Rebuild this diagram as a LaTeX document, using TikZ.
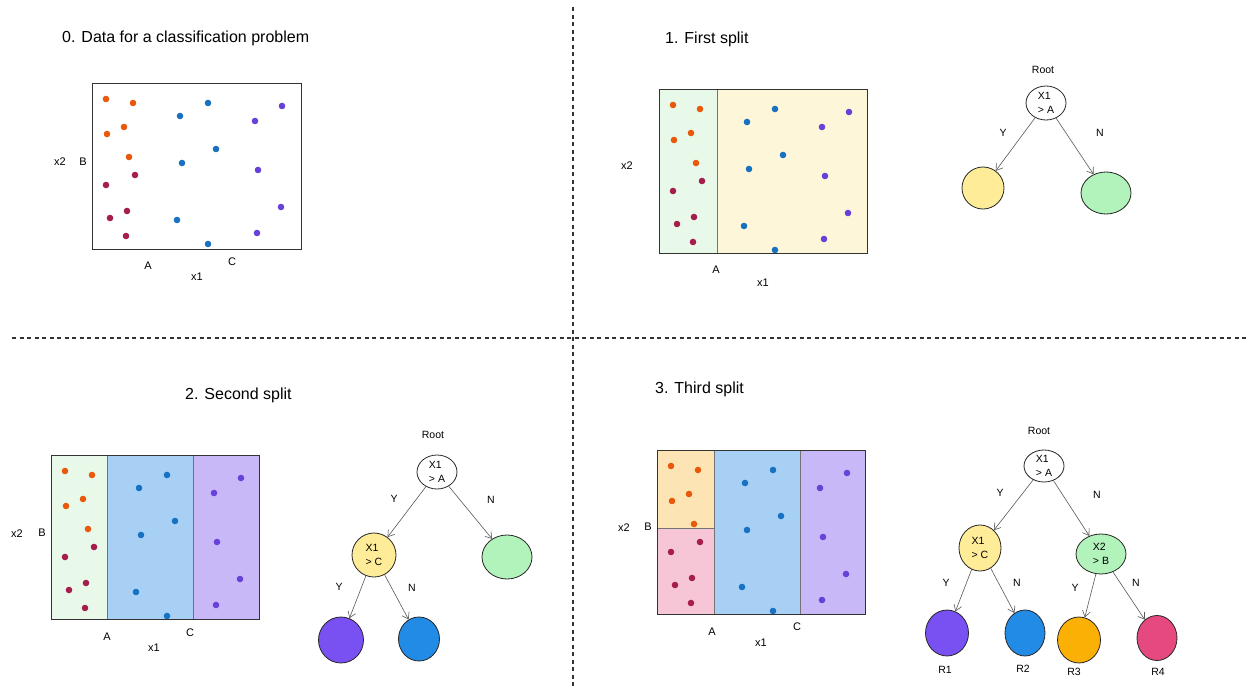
\documentclass[tikz,border=0pt]{standalone}
\usepackage{fontspec}
\setmainfont{Liberation Sans}
\usetikzlibrary{shapes.geometric,arrows.meta}

% point colours
\definecolor{ptorange}{HTML}{E8590C}
\definecolor{ptmaroon}{HTML}{A61E4D}
\definecolor{ptblue}{HTML}{1971C2}
\definecolor{ptpurple}{HTML}{6741D9}
% region fills
\definecolor{rgreen}{HTML}{E8F9EA}
\definecolor{ryellow}{HTML}{FEF6D8}
\definecolor{rblue}{HTML}{A8D0F5}
\definecolor{rpurple}{HTML}{C8B8F8}
\definecolor{rorange}{HTML}{FCE4B4}
\definecolor{rpink}{HTML}{F7C6D6}
% tree node fills
\definecolor{nyellow}{HTML}{FFEC99}
\definecolor{ngreen}{HTML}{B2F2BB}
\definecolor{npurple}{HTML}{7950F2}
\definecolor{nblue}{HTML}{228BE6}
\definecolor{norange}{HTML}{FAB005}
\definecolor{npink}{HTML}{E64980}

% the same scatter of points, relative to the top-left corner of a plot box
\newcommand{\plotpoints}{%
  \foreach \p in {(14,16),(41,20),(32,44),(15,51),(37,74)}
    \fill[ptorange] \p circle (3.3pt);
  \foreach \p in {(43,92),(14,102),(35,128),(18,135),(34,153)}
    \fill[ptmaroon] \p circle (3.3pt);
  \foreach \p in {(116,20),(88,33),(124,66),(90,80),(85,137),(116,161)}
    \fill[ptblue] \p circle (3.3pt);
  \foreach \p in {(190,23),(163,38),(166,87),(189,124),(165,150)}
    \fill[ptpurple] \p circle (3.3pt);
}

\begin{document}
\begin{tikzpicture}[x=1pt,y=-1pt,
  title/.style={font=\fontsize{16}{18}\selectfont, inner sep=0pt},
  axis/.style={font=\fontsize{11}{13}\selectfont, inner sep=0pt},
  lbl/.style={font=\fontsize{10.5}{12}\selectfont, inner sep=0pt},
  frame/.style={draw=black!80, line width=0.8pt},
  splitline/.style={draw=black!55, line width=0.6pt},
  divider/.style={draw=black!80, line width=1.3pt, dash pattern=on 4pt off 3.5pt},
  tn/.style={ellipse, draw=black!85, line width=0.8pt, inner sep=0pt,
             font=\fontsize{10.5}{13.5}\selectfont, align=left},
  arr/.style={draw=black!65, line width=0.6pt, -{Straight Barb[length=6pt,width=8pt]}},
]
\useasboundingbox (0,0) rectangle (1248,688);
\fill[white] (0,0) rectangle (1248,688);

% quadrant dividers
\draw[divider] (573,7) -- (573,688);
\draw[divider] (12,338) -- (1248,338);

%% ---------- 0. data ----------
\node[title, anchor=west] (t0) at (62,38) {0. Data for a classification problem};
\begin{scope}[shift={(92,83)}] \plotpoints \end{scope}
\draw[frame] (92,83) rectangle (301,249);
\node[axis] (x2a) at (60,162) {x2};
\node[axis] (ba) at (83,162) {B};
\node[axis] (aa) at (148,266) {A};
\node[axis] (ca) at (232,262) {C};
\node[axis] (x1a) at (197,277) {x1};

%% ---------- 1. first split ----------
\node[title, anchor=west] (t1) at (665,39) {1. First split};
\fill[rgreen] (659,89) rectangle (717,253);
\fill[ryellow] (717,89) rectangle (867,253);
\draw[splitline] (717,89) -- (717,253);
\begin{scope}[shift={(659,89)}] \plotpoints \end{scope}
\draw[frame] (659,89) rectangle (867,253);
\node[axis] (x2b) at (627,166) {x2};
\node[axis] (ab) at (716,270) {A};
\node[axis] (x1b) at (763,283) {x1};

\node[lbl] (root1) at (1043,70) {Root};
\node[tn, fill=white, minimum width=40pt, minimum height=34pt] (n1a) at (1046,103) {X1\\> A};
\node[tn, fill=nyellow, minimum width=42pt, minimum height=42pt] (n1y) at (983,188) {};
\node[tn, fill=ngreen, minimum width=50pt, minimum height=42pt] (n1g) at (1106,193) {};
\draw[arr] (n1a) -- (n1y);
\draw[arr] (n1a) -- (n1g);
\node[lbl] (y1a) at (1003,133) {Y};
\node[lbl] (n1n) at (1100,133) {N};

%% ---------- 2. second split ----------
\node[title, anchor=west] (t2) at (185,395) {2. Second split};
\fill[rgreen] (51,455) rectangle (107,619);
\fill[rblue] (107,455) rectangle (193,619);
\fill[rpurple] (193,455) rectangle (259,619);
\draw[splitline] (107,455) -- (107,619);
\draw[splitline] (193,455) -- (193,619);
\begin{scope}[shift={(51,455)}] \plotpoints \end{scope}
\draw[frame] (51,455) rectangle (259,619);
\node[axis] (x2c) at (17,534) {x2};
\node[axis] (bc) at (42,533) {B};
\node[axis] (ac) at (107,637) {A};
\node[axis] (cc) at (190,633) {C};
\node[axis] (x1c) at (154,648) {x1};

\node[lbl] (root2) at (433,435) {Root};
\node[tn, fill=white, minimum width=40pt, minimum height=34pt] (n2a) at (437,472) {X1\\> A};
\node[tn, fill=nyellow, minimum width=44pt, minimum height=44pt] (n2y) at (374,555) {X1\\> C};
\node[tn, fill=ngreen, minimum width=50pt, minimum height=44pt] (n2g) at (507,557) {};
\node[tn, fill=npurple, minimum width=45pt, minimum height=46pt] (n2p) at (341,640) {};
\node[tn, fill=nblue, minimum width=41pt, minimum height=44pt] (n2b) at (419,639) {};
\draw[arr] (n2a) -- (n2y);
\draw[arr] (n2a) -- (n2g);
\draw[arr] (n2y) -- (n2p);
\draw[arr] (n2y) -- (n2b);
\node[lbl] (y2a) at (394,499) {Y};
\node[lbl] (n2n) at (491,500) {N};
\node[lbl] (y2b) at (339,587) {Y};
\node[lbl] (n2m) at (412,588) {N};

%% ---------- 3. third split ----------
\node[title, anchor=west] (t3) at (655,389) {3. Third split};
\fill[rorange] (657,450) rectangle (714,528);
\fill[rpink] (657,528) rectangle (714,614);
\fill[rblue] (714,450) rectangle (800,614);
\fill[rpurple] (800,450) rectangle (865,614);
\draw[splitline] (714,450) -- (714,614);
\draw[splitline] (800,450) -- (800,614);
\draw[splitline] (657,528) -- (714,528);
\begin{scope}[shift={(657,450)}] \plotpoints \end{scope}
\draw[frame] (657,450) rectangle (865,614);
\node[axis] (x2d) at (624,528) {x2};
\node[axis] (bd) at (648,527) {B};
\node[axis] (ad) at (712,632) {A};
\node[axis] (cd) at (797,627) {C};
\node[axis] (x1d) at (761,643) {x1};

\node[lbl] (root3) at (1039,431) {Root};
\node[tn, fill=white, minimum width=40pt, minimum height=32pt] (n3a) at (1044,466) {X1\\> A};
\node[tn, fill=nyellow, minimum width=42pt, minimum height=46pt] (n3y) at (980,548) {X1\\> C};
\node[tn, fill=ngreen, minimum width=50pt, minimum height=40pt] (n3g) at (1101,554) {X2\\> B};
\node[tn, fill=npurple, minimum width=43pt, minimum height=46pt] (n3p) at (947,633) {};
\node[tn, fill=nblue, minimum width=40pt, minimum height=46pt] (n3b) at (1025,633) {};
\node[tn, fill=norange, minimum width=43pt, minimum height=46pt] (n3o) at (1079,640) {};
\node[tn, fill=npink, minimum width=40pt, minimum height=45pt] (n3k) at (1157,638) {};
\draw[arr] (n3a) -- (n3y);
\draw[arr] (n3a) -- (n3g);
\draw[arr] (n3y) -- (n3p);
\draw[arr] (n3y) -- (n3b);
\draw[arr] (n3g) -- (n3o);
\draw[arr] (n3g) -- (n3k);
\node[lbl] (y3a) at (1000,493) {Y};
\node[lbl] (n3n) at (1097,495) {N};
\node[lbl] (y3b) at (946,583) {Y};
\node[lbl] (n3m) at (1017,583) {N};
\node[lbl] (y3c) at (1075,588) {Y};
\node[lbl] (n3l) at (1136,583) {N};
\node[lbl] (r1) at (945,670) {R1};
\node[lbl] (r2) at (1023,669) {R2};
\node[lbl] (r3) at (1074,672) {R3};
\node[lbl] (r4) at (1158,672) {R4};
\end{tikzpicture}
\end{document}
